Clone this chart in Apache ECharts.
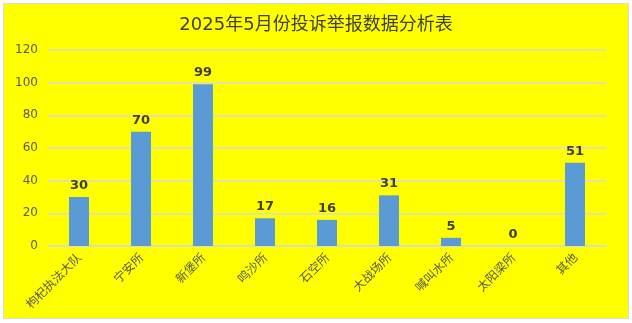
<!DOCTYPE html>
<html><head><meta charset="utf-8">
<script src="https://cdn.jsdelivr.net/npm/echarts@6/dist/echarts.min.js"></script>
<style>
html,body{margin:0;padding:0;background:#fff;}
#wrap{position:absolute;left:3px;top:3px;width:624px;height:314px;border:1px solid #d9d9d9;background:#ffff00;}
#c{width:624px;height:314px;}
</style></head><body>
<div id="wrap"><div id="c"></div></div>
<script>
const categories = ['枸杞执法大队','宁安所','新堡所','鸣沙所','石空所','大战场所','喊叫水所','太阳梁所','其他'];
const values = [30,70,99,17,16,31,5,0,51];
const yTicks = {min:0,max:120,interval:20};
const chart = echarts.init(document.getElementById('c'));
chart.setOption({
  backgroundColor:'#ffff00',
  animation:false,
  title:{text:'2025年5月份投诉举报数据分析表',left:'center',top:7,
    textStyle:{fontSize:18,fontWeight:'normal',color:'#404040',fontFamily:'"DejaVu Sans", "Noto Sans CJK SC", sans-serif'}},
  grid:{left:44,right:22,top:46,bottom:72},
  xAxis:{type:'category',data:categories,
    axisLine:{lineStyle:{color:'#d9d9d9',width:1.5}},axisTick:{show:false},
    axisLabel:{rotate:45,interval:0,color:'#595959',fontSize:12,margin:9,fontFamily:'"Noto Sans CJK SC", sans-serif'}},
  yAxis:{type:'value',min:yTicks.min,max:yTicks.max,interval:yTicks.interval,
    axisLine:{show:false},axisTick:{show:false},
    splitLine:{lineStyle:{color:'#d9d9d9',width:1.5}},
    axisLabel:{color:'#595959',fontSize:12,margin:10,fontFamily:'"DejaVu Sans", sans-serif'}},
  series:[{type:'bar',data:values,barWidth:20,
    itemStyle:{color:'#5b9bd5'},
    label:{show:true,position:'top',distance:5,color:'#404040',fontSize:13,fontWeight:'bold',fontFamily:'"DejaVu Sans", sans-serif'}}]
});
</script></body></html>
